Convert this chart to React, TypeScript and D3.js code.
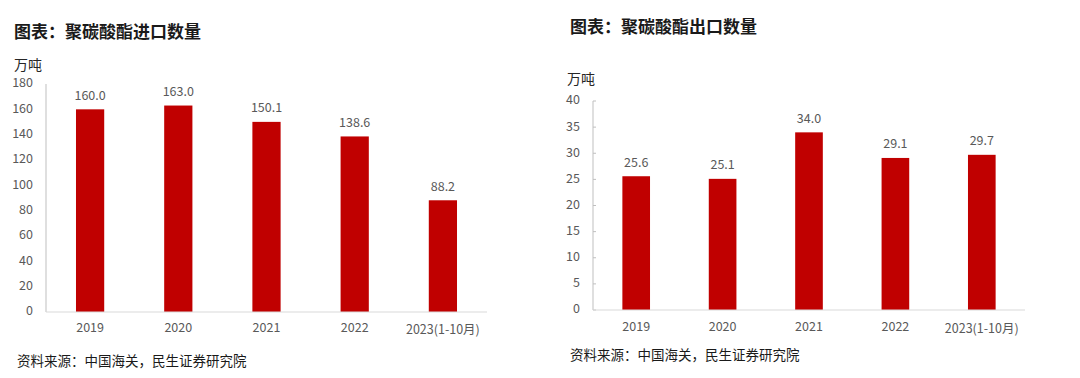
import React from "react";
import * as d3 from "d3";

const categories = ["2019", "2020", "2021", "2022", "2023(1-10月)"];
const importValues = [160.0, 163.0, 150.1, 138.6, 88.2];
const exportValues = [25.6, 25.1, 34.0, 29.1, 29.7];
const importTicks = [0, 20, 40, 60, 80, 100, 120, 140, 160, 180];
const exportTicks = [0, 5, 10, 15, 20, 25, 30, 35, 40];
const importTitle = "图表：聚碳酸酯进口数量";
const exportTitle = "图表：聚碳酸酯出口数量";
const unitLabel = "万吨";
const sourceText = "资料来源：中国海关，民生证券研究院";

const FONT = "'Noto Sans CJK SC', 'Noto Sans', sans-serif";
const BAR = "#C00000";
const GREY = "#595959";

type ChartProps = {
  title: string;
  values: number[];
  ticks: number[];
  titleX: number;
  titleY: number;
  unitX: number;
  unitY: number;
  x0: number;
  x1: number;
  yTop: number;
  yBottom: number;
  tickMarks: boolean;
  sourceX: number;
  sourceY: number;
  labelY: number;
};

function BarChart(p: ChartProps) {
  const maxT = p.ticks[p.ticks.length - 1];
  const x = d3.scaleBand<string>().domain(categories).range([p.x0, p.x1]).paddingInner(0.68).paddingOuter(0.34);
  const y = d3.scaleLinear().domain([0, maxT]).range([p.yBottom, p.yTop]);
  return (
    <g>
      <text x={p.titleX} y={p.titleY} fontFamily={FONT} fontSize={17} fontWeight="bold" fill="#1a1a1a" dominantBaseline="middle">
        {p.title}
      </text>
      <text x={p.unitX} y={p.unitY} fontFamily={FONT} fontSize={14} fill="#262626" dominantBaseline="middle">
        {unitLabel}
      </text>
      {p.ticks.map((t) => (
        <g key={t}>
          <text x={p.x0 - 13} y={y(t)} fontFamily={FONT} fontSize={12.5} fill={GREY} textAnchor="end" dominantBaseline="middle">
            {t}
          </text>
          {p.tickMarks && <line x1={p.x0} x2={p.x0 + 3} y1={y(t)} y2={y(t)} stroke="#bfbfbf" strokeWidth={1} />}
        </g>
      ))}
      <line x1={p.x0} x2={p.x0} y1={p.yTop} y2={p.yBottom} stroke="#bfbfbf" strokeWidth={1} />
      {p.values.map((v, i) => {
        const c = categories[i];
        const bx = x(c)!;
        return (
          <g key={c}>
            <rect x={bx} y={y(v)} width={x.bandwidth()} height={p.yBottom - y(v)} fill={BAR} />
            <text x={bx + x.bandwidth() / 2} y={y(v) - 13} fontFamily={FONT} fontSize={12.5} fill={GREY} textAnchor="middle" dominantBaseline="middle">
              {v.toFixed(1)}
            </text>
            <text x={bx + x.bandwidth() / 2} y={p.labelY + (i === categories.length - 1 ? 2 : 0)} fontFamily={FONT} fontSize={12.5} fill={GREY} textAnchor="middle" dominantBaseline="middle">
              {c}
            </text>
          </g>
        );
      })}
      <line x1={p.x0} x2={p.x1} y1={p.yBottom} y2={p.yBottom} stroke="#d9d9d9" strokeWidth={1.2} />
      <text x={p.sourceX} y={p.sourceY} fontFamily={FONT} fontSize={13.5} fill="#1a1a1a" dominantBaseline="middle">
        {sourceText}
      </text>
    </g>
  );
}

export default function App() {
  return (
    <svg width={1080} height={378} style={{ position: "absolute", left: 0, top: 0, background: "#fff" }}>
      <rect width={1080} height={378} fill="#fff" />
      <BarChart
        title={importTitle}
        values={importValues}
        ticks={importTicks}
        titleX={14}
        titleY={33}
        unitX={14}
        unitY={66}
        x0={46}
        x1={487}
        yTop={84}
        yBottom={312}
        tickMarks={false}
        sourceX={17}
        sourceY={362}
        labelY={329}
      />
      <BarChart
        title={exportTitle}
        values={exportValues}
        ticks={exportTicks}
        titleX={570}
        titleY={28}
        unitX={567}
        unitY={80}
        x0={593}
        x1={1025}
        yTop={101}
        yBottom={310}
        tickMarks={true}
        sourceX={570}
        sourceY={356}
        labelY={328}
      />
    </svg>
  );
}
